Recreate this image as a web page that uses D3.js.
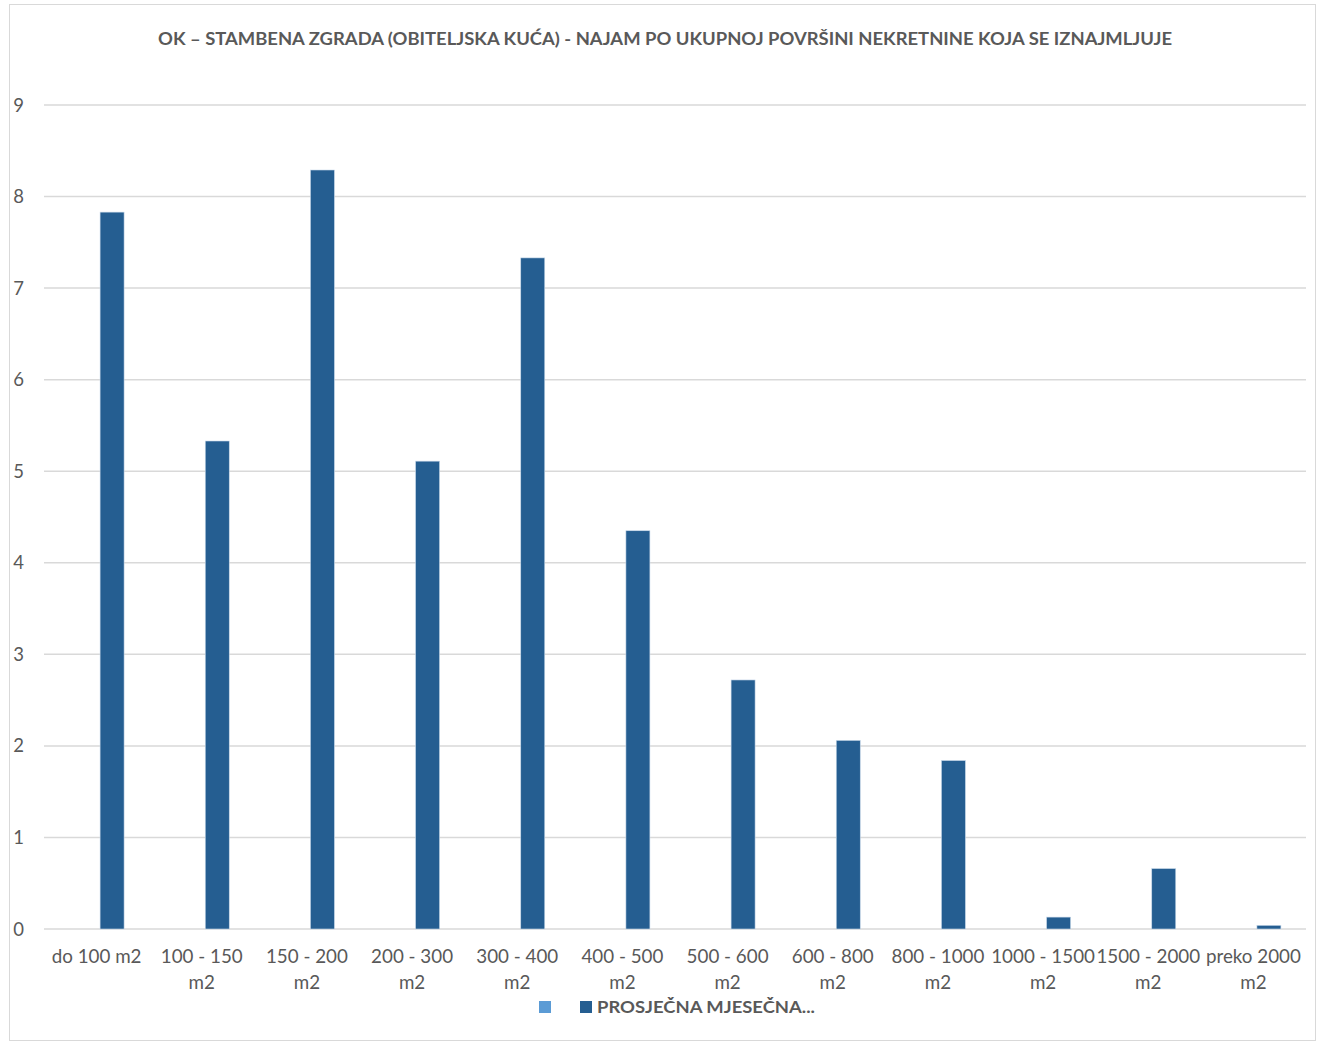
<!DOCTYPE html>
<html><head><meta charset="utf-8">
<script src="https://cdn.jsdelivr.net/npm/d3@7"></script>
<style>body{margin:0;background:#fff}svg{display:block}</style>
</head><body>
<script>
const title = "OK – STAMBENA ZGRADA (OBITELJSKA KUĆA) - NAJAM PO UKUPNOJ POVRŠINI NEKRETNINE KOJA SE IZNAJMLJUJE";
const categories = [["do 100 m2"],["100 - 150","m2"],["150 - 200","m2"],["200 - 300","m2"],["300 - 400","m2"],["400 - 500","m2"],["500 - 600","m2"],["600 - 800","m2"],["800 - 1000","m2"],["1000 - 1500","m2"],["1500 - 2000","m2"],["preko 2000","m2"]];
const seriesNames = ["", "PROSJEČNA MJESEČNA..."];
const series1 = [null,null,null,null,null,null,null,null,null,null,null,null];
const series2 = [7.83,5.33,8.29,5.11,7.33,4.35,2.72,2.06,1.84,0.13,0.66,0.04];
const yTicks = [0,1,2,3,4,5,6,7,8,9];
const colors = ["#5b9bd5","#255e91"];

(function(){
const W=1325,H=1042;
const svg=d3.select("body").append("svg").attr("width",W).attr("height",H);
const font="Lato, 'Open Sans', sans-serif";
svg.append("rect").attr("x",9.5).attr("y",4.5).attr("width",1306).attr("height",1036).attr("fill","#fff").attr("stroke","#d9d9d9");

svg.append("text").attr("x",665).attr("y",45).attr("text-anchor","middle")
  .attr("font-family",font).attr("font-weight","bold").attr("font-size",16.5).attr("fill","#595959")
  .attr("textLength",1014).attr("lengthAdjust","spacingAndGlyphs").text(title);

const pl=44,pr=1306,pt=105,pb=929;
const y=d3.scaleLinear().domain([0,9]).range([pb,pt]);
const x0=d3.scaleBand().domain(d3.range(categories.length)).range([pl,pr]).padding(0);
const bw=x0.bandwidth();
const x1=d3.scaleBand().domain([0,1]).range([bw/2-27.5,bw/2+27.5]).paddingInner(0.226).paddingOuter(0);

const g=svg.append("g");
g.selectAll("line.grid").data(yTicks).join("line").attr("class","grid")
  .attr("x1",pl).attr("x2",pr).attr("y1",d=>y(d)).attr("y2",d=>y(d))
  .attr("stroke","#d9d9d9").attr("stroke-width",1.5);
g.selectAll("text.yt").data(yTicks).join("text").attr("class","yt")
  .attr("x",24).attr("y",d=>y(d)+6.5).attr("text-anchor","end")
  .attr("font-family",font).attr("font-size",18.5).attr("fill","#595959").text(d=>d);

const allSeries=[series1,series2];
allSeries.forEach((s,si)=>{
  g.selectAll("rect.s"+si).data(s.map((v,i)=>({v,i})).filter(d=>d.v!=null)).join("rect")
    .attr("class","s"+si)
    .attr("x",d=>x0(d.i)+x1(si)).attr("width",x1.bandwidth())
    .attr("y",d=>y(d.v)).attr("height",d=>y(0)-y(d.v))
    .attr("fill",colors[si]).attr("stroke","#c9d9ea").attr("stroke-width",0.6);
});

const xl=g.selectAll("text.xl").data(categories).join("text").attr("class","xl")
  .attr("x",(d,i)=>x0(i)+bw/2).attr("y",963).attr("text-anchor","middle")
  .attr("font-family",font).attr("font-size",18.8).attr("fill","#595959");
xl.selectAll("tspan").data(d=>d).join("tspan").attr("x",function(){return this.parentNode.getAttribute("x");})
  .attr("dy",(d,j)=>j?26:0).text(d=>d);

svg.append("rect").attr("x",539).attr("y",1001).attr("width",12).attr("height",12).attr("fill",colors[0]);
svg.append("rect").attr("x",580).attr("y",1001).attr("width",12).attr("height",12).attr("fill",colors[1]);
svg.append("text").attr("x",597).attr("y",1013).attr("font-family",font).attr("font-weight","bold")
  .attr("font-size",17.5).attr("fill","#595959")
  .attr("textLength",218).attr("lengthAdjust","spacingAndGlyphs").text(seriesNames[1]);
})();
</script>
</body></html>
